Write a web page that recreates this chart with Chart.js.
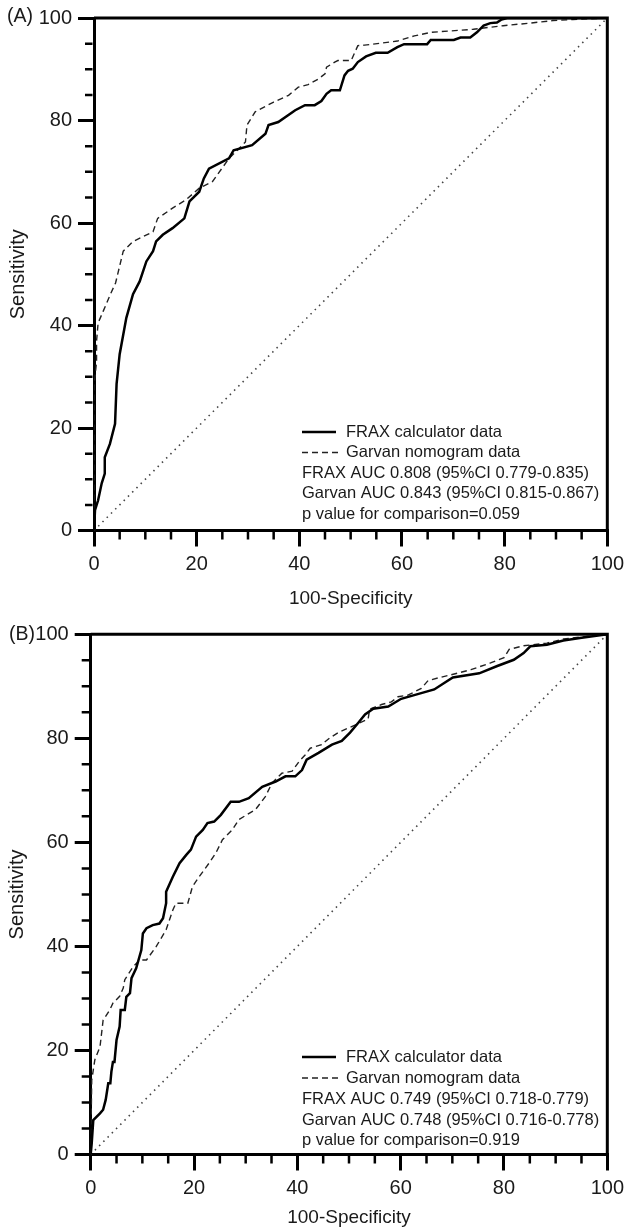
<!DOCTYPE html>
<html>
<head>
<meta charset="utf-8">
<script src="https://cdn.jsdelivr.net/npm/chart.js@4.4.0/dist/chart.umd.min.js"></script>
<style>
  html, body { margin: 0; padding: 0; background: #fff; }
  .panel { position: absolute; left: 0; width: 630px; height: 615px; }
</style>
</head>
<body>
<div class="panel" style="top:0"><canvas id="chart-a" width="630" height="615"></canvas></div>
<div class="panel" style="top:615px"><canvas id="chart-b" width="630" height="615"></canvas></div>
<script>
// ===== DADOS =====
const axisTicks = [0, 20, 40, 60, 80, 100];
const diagX = [0, 100];
const diagY = [0, 100];

// Painel A
const fraxA_x = [0, 0.2, 0.8, 1.5, 2.1, 2.1, 3.1, 4.1, 4.4, 5.0, 6.3, 7.6, 8.9, 10.2, 11.5, 12.1, 13.4, 15.3, 17.6, 18.6,
  20.5, 21.4, 22.4, 26.3, 27.2, 30.8, 33.4, 34.0, 35.9, 39.2, 41.1, 43.0, 44.3, 45.3, 46.2, 47.9, 48.8, 49.5, 50.4, 51.4,
  53.0, 54.9, 57.2, 59.1, 60.4, 64.9, 65.6, 70.1, 71.4, 73.3, 74.6, 75.9, 77.2, 78.5, 79.4, 80.5, 100];
const fraxA_y = [0, 4.0, 5.9, 9.2, 11.1, 14.3, 16.9, 20.8, 28.6, 34.4, 41.5, 46.1, 48.6, 52.5, 54.5, 56.4, 57.7, 59.0, 60.9, 64.2,
  66.1, 68.7, 70.6, 72.6, 74.2, 75.2, 77.4, 79.1, 79.7, 82.0, 83.0, 83.0, 83.8, 85.2, 85.9, 85.9, 88.8, 89.7, 90.1, 91.4,
  92.5, 93.2, 93.2, 94.3, 94.9, 94.9, 95.7, 95.7, 96.2, 96.2, 97.2, 98.5, 99.0, 99.1, 99.7, 100, 100];
const garvanA_x = [0, 0, 0.5, 0.5, 0.8, 1.8, 3.2, 4.2, 5.7, 7.6, 11.5, 12.4, 15.3, 17.9, 20.5, 23.1, 26.3, 29.5, 29.8, 31.4,
  35.0, 37.9, 39.8, 41.7, 43.7, 45.0, 45.3, 46.9, 47.5, 50.1, 51.4, 52.7, 59.1, 62.4, 65.6, 73.9, 79.7, 84.9, 89.4, 93.3, 100];
const garvanA_y = [0, 28, 33, 37, 40.5, 42.8, 46.1, 48.3, 54.5, 56.4, 58.3, 60.9, 62.9, 64.5, 66.8, 68.1, 72.6, 75.8, 79.1, 81.7,
  83.6, 84.9, 86.5, 87.0, 88.1, 89.1, 90.4, 91.4, 91.7, 91.7, 94.6, 94.7, 95.5, 96.5, 97.2, 97.8, 98.5, 99.0, 99.5, 99.7, 100];
const legendA = ['FRAX AUC 0.808 (95%CI 0.779-0.835)', 'Garvan AUC 0.843 (95%CI 0.815-0.867)', 'p value for comparison=0.059'];

// Painel B
const fraxB_x = [0, 0.2, 0.5, 1.8, 2.4, 2.9, 3.4, 3.8, 4.0, 4.3, 4.6, 5.0, 5.6, 5.8, 6.6, 6.9, 7.6, 7.9, 8.8, 9.8,
  10.1, 10.8, 12.0, 13.3, 14.0, 14.6, 14.6, 15.9, 17.2, 18.5, 19.4, 20.4, 21.7, 22.6, 23.9, 25.2, 27.1, 28.7, 30.6, 33.2,
  35.8, 37.7, 39.6, 40.9, 41.8, 44.1, 46.7, 48.6, 50.2, 51.8, 53.1, 54.7, 57.6, 60.1, 63.3, 66.5, 68.5, 70.1, 75.2, 78.7,
  81.9, 83.8, 85.1, 88.3, 91.5, 94.7, 100];
const fraxB_y = [0, 2.2, 6.6, 7.9, 8.6, 10.5, 13.7, 13.7, 15.9, 17.8, 17.8, 22.0, 24.6, 27.8, 27.8, 30.3, 31.0, 33.9, 35.8, 39.3,
  42.5, 43.5, 44.1, 44.4, 45.4, 48.3, 50.5, 53.4, 56.0, 57.6, 58.6, 61.1, 62.4, 63.7, 64.0, 65.3, 67.8, 67.8, 68.5, 70.7,
  71.7, 72.7, 72.7, 73.9, 75.9, 77.2, 78.8, 79.5, 81.1, 83.0, 84.6, 85.7, 86.1, 87.6, 88.5, 89.4, 90.7, 91.7, 92.5, 93.9,
  95.1, 96.4, 97.7, 98.0, 98.8, 99.3, 100];
const garvanB_x = [0, 0.2, 0.8, 1.8, 2.4, 3.7, 4.3, 5.6, 6.3, 6.6, 8.2, 9.5, 10.8, 12.7, 14.6, 15.9, 16.5, 18.8, 19.7, 21.0,
  22.9, 24.2, 25.5, 27.4, 28.7, 31.9, 33.8, 35.1, 37.0, 39.0, 40.3, 41.5, 42.5, 44.7, 46.3, 47.9, 49.9, 51.5, 53.7, 54.0,
  55.0, 56.3, 58.2, 59.5, 61.4, 64.0, 65.3, 67.2, 69.7, 73.6, 77.4, 80.0, 81.0, 83.8, 88.3, 91.5, 96.0, 100];
const garvanB_y = [0, 14.3, 18.2, 20.7, 25.8, 27.8, 29.1, 30.4, 32.0, 33.6, 36.1, 37.4, 37.4, 40.0, 43.2, 47.0, 48.3, 48.3, 51.5, 53.4,
  56.0, 57.9, 60.5, 62.4, 64.4, 66.3, 68.8, 71.4, 73.3, 73.7, 75.5, 76.8, 78.1, 78.8, 80.1, 81.1, 82.0, 82.7, 83.7, 85.6,
  86.0, 86.5, 87.0, 88.0, 88.3, 89.6, 91.1, 91.6, 92.2, 93.2, 94.5, 95.5, 97.1, 97.8, 98.3, 99.1, 99.6, 100];
const legendB = ['FRAX AUC 0.749 (95%CI 0.718-0.779)', 'Garvan AUC 0.748 (95%CI 0.716-0.778)', 'p value for comparison=0.919'];

const seriesNames = ['FRAX calculator data', 'Garvan nomogram data'];

// ===== CONFIG GLOBAL =====
const FONT = '"Liberation Sans", Arial, Helvetica, sans-serif';
const TEXT = '#1a1a1a';
Chart.defaults.font.family = FONT;
Chart.defaults.color = TEXT;

function toPoints(xs, ys) {
    return xs.map((x, i) => ({ x, y: ys[i] }));
}

// Moldura, ticks menores, legenda e rótulo do painel
const rocDecor = {
    id: 'rocDecor',
    afterDraw(chart, args, opts) {
        const { ctx, chartArea: a, scales: { x, y } } = chart;
        ctx.save();
        ctx.strokeStyle = '#000';

        // moldura superior e direita
        ctx.lineWidth = 3;
        ctx.beginPath();
        ctx.moveTo(a.left, a.top);
        ctx.lineTo(a.right, a.top);
        ctx.lineTo(a.right, a.bottom);
        ctx.stroke();

        // ticks menores a cada 5
        ctx.lineWidth = 2.5;
        ctx.beginPath();
        for (let v = 5; v < 100; v += 5) {
            if (v % 20 === 0) continue;
            const px = x.getPixelForValue(v);
            ctx.moveTo(px, a.bottom + 1.5);
            ctx.lineTo(px, a.bottom + 9);
            const py = y.getPixelForValue(v);
            ctx.moveTo(a.left - 1.5, py);
            ctx.lineTo(a.left - 9, py);
        }
        ctx.stroke();

        // legenda
        const ly = opts.legendY;
        ctx.lineWidth = 2.5;
        ctx.setLineDash([]);
        ctx.beginPath();
        ctx.moveTo(302, ly[0]);
        ctx.lineTo(336, ly[0]);
        ctx.stroke();
        ctx.lineWidth = 1.4;
        ctx.strokeStyle = '#222';
        ctx.setLineDash([6, 4]);
        ctx.beginPath();
        ctx.moveTo(302, ly[1]);
        ctx.lineTo(342, ly[1]);
        ctx.stroke();
        ctx.setLineDash([]);

        ctx.fillStyle = TEXT;
        ctx.font = '16.5px ' + FONT;
        ctx.textBaseline = 'middle';
        ctx.textAlign = 'left';
        ctx.fillText(seriesNames[0], 346, ly[0]);
        ctx.fillText(seriesNames[1], 346, ly[1]);
        opts.lines.forEach((t, i) => ctx.fillText(t, 302, ly[i + 2]));

        // rótulo do painel
        ctx.font = '19.5px ' + FONT;
        ctx.fillText(opts.tag, opts.tagX, opts.tagY);
        ctx.restore();
    }
};

function axisOptions(title, titleSize, titlePad, fit) {
    return {
        type: 'linear',
        min: 0,
        max: 100,
        ticks: { stepSize: 20, padding: 6, color: TEXT, font: { size: 20 } },
        grid: { drawOnChartArea: false, tickLength: 16, lineWidth: 3, color: '#000' },
        border: { display: true, width: 3, color: '#000' },
        title: { display: true, text: title, color: TEXT, font: { size: titleSize }, padding: titlePad },
        afterFit: fit
    };
}

// ===== GRÁFICO ROC =====
function renderRocPanel(canvasId, cfg) {
    const canvas = document.getElementById(canvasId);
    const xAxis = axisOptions('100-Specificity', 19, { top: 0, bottom: cfg.xTitlePad }, s => { s.height = cfg.xAxisHeight; });
    const yAxis = axisOptions('Sensitivity', 20, { top: cfg.yTitlePad, bottom: 0 }, s => { s.width = cfg.yAxisWidth; });

    return new Chart(canvas, {
        type: 'scatter',
        data: {
            datasets: [
                {
                    label: seriesNames[0],
                    data: toPoints(cfg.fraxX, cfg.fraxY),
                    showLine: true,
                    borderColor: '#000',
                    borderWidth: 2.5,
                    pointRadius: 0,
                    tension: 0
                },
                {
                    label: seriesNames[1],
                    data: toPoints(cfg.garvanX, cfg.garvanY),
                    showLine: true,
                    borderColor: '#222',
                    borderWidth: 1.4,
                    borderDash: [6, 4],
                    pointRadius: 0,
                    tension: 0
                },
                {
                    label: 'reference',
                    data: toPoints(diagX, diagY),
                    showLine: true,
                    borderColor: '#444',
                    borderWidth: 1.6,
                    borderDash: [1.5, 4.5],
                    pointRadius: 0
                }
            ]
        },
        options: {
            responsive: false,
            animation: false,
            layout: { padding: { top: cfg.top, right: cfg.right, left: 0, bottom: 0 } },
            plugins: {
                legend: { display: false },
                tooltip: { enabled: false },
                rocDecor: { legendY: cfg.legendY, lines: cfg.lines, tag: cfg.tag, tagX: cfg.tagX, tagY: cfg.tagY }
            },
            scales: { x: xAxis, y: yAxis }
        },
        plugins: [rocDecor]
    });
}

renderRocPanel('chart-a', {
    fraxX: fraxA_x, fraxY: fraxA_y, garvanX: garvanA_x, garvanY: garvanA_y, lines: legendA,
    top: 15.5, right: 18.5, yAxisWidth: 94, xAxisHeight: 84.5,
    yTitlePad: 6, xTitlePad: 5,
    legendY: [432, 452.5, 473, 493.5, 514],
    tag: '(A)', tagX: 7, tagY: 17
});

renderRocPanel('chart-b', {
    fraxX: fraxB_x, fraxY: fraxB_y, garvanX: garvanB_x, garvanY: garvanB_y, lines: legendB,
    top: 19.3, right: 19.3, yAxisWidth: 90.7, xAxisHeight: 75.5,
    yTitlePad: 5.5, xTitlePad: 0.5,
    legendY: [442, 463, 484, 505, 525],
    tag: '(B)', tagX: 9, tagY: 20
});
</script>
</body>
</html>
